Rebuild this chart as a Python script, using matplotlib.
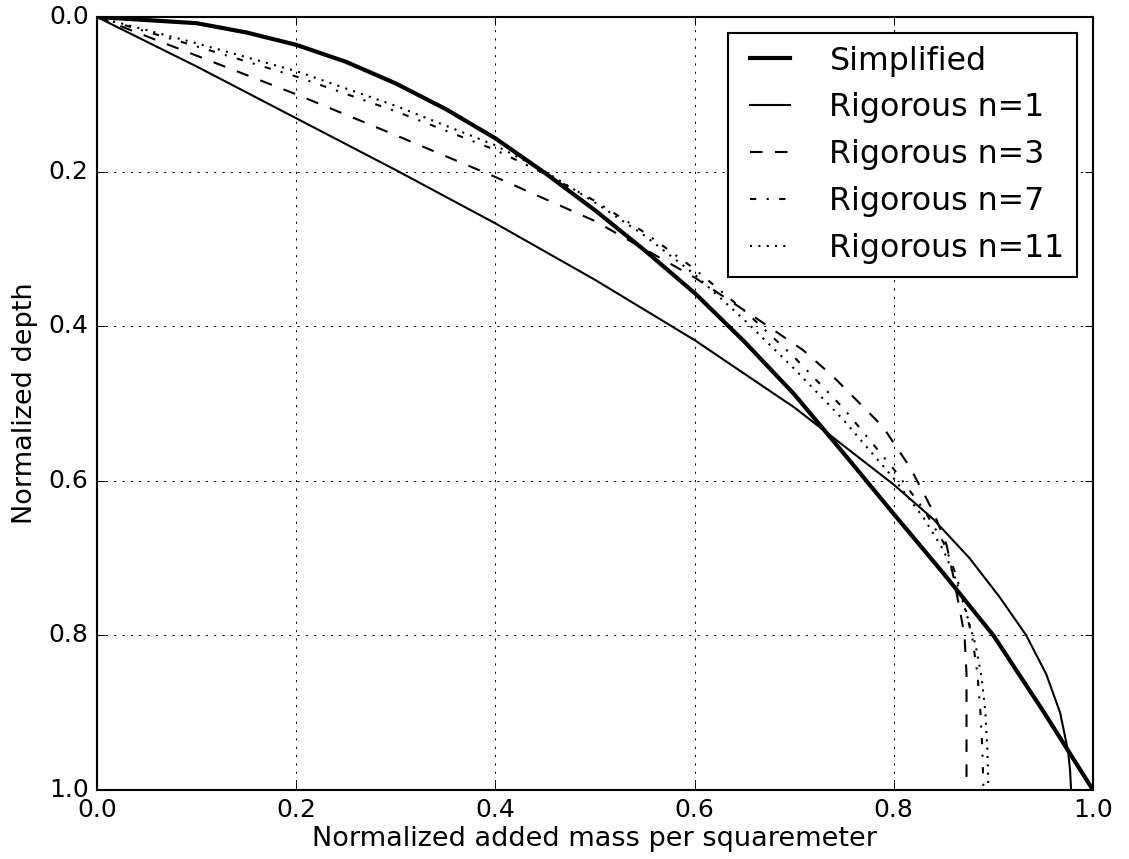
import matplotlib
matplotlib.use("Agg")
import matplotlib.pyplot as plt

plt.style.use('classic')
plt.rcParams['font.family'] = ['DejaVu Sans']

# Simplified model
simp_mass  = [0.0, 0.1, 0.15, 0.2, 0.25, 0.3, 0.35, 0.4, 0.45, 0.5, 0.55, 0.6, 0.65, 0.7,
              0.75, 0.8, 0.85, 0.9, 0.95, 1.0]
simp_depth = [0.0, 0.008, 0.020, 0.036, 0.058, 0.086, 0.119, 0.157, 0.202, 0.250, 0.302, 0.357,
              0.420, 0.488, 0.565, 0.643, 0.720, 0.800, 0.898, 1.0]

# Rigorous n=1
n1_mass  = [0.0, 0.1, 0.2, 0.3, 0.4, 0.5, 0.6, 0.7, 0.733, 0.8, 0.840, 0.876, 0.906, 0.933,
            0.953, 0.967, 0.975, 0.977, 0.978]
n1_depth = [0.0, 0.064, 0.131, 0.198, 0.267, 0.340, 0.418, 0.505, 0.538, 0.605, 0.650, 0.700,
            0.750, 0.800, 0.850, 0.900, 0.950, 0.975, 1.0]

# Rigorous n=3
n3_mass  = [0.0, 0.1, 0.2, 0.3, 0.4, 0.5, 0.6, 0.66, 0.709, 0.739, 0.789, 0.816, 0.83, 0.841,
            0.853, 0.860, 0.866, 0.871, 0.873, 0.873]
n3_depth = [0.0, 0.050, 0.100, 0.153, 0.207, 0.264, 0.337, 0.388, 0.431, 0.465, 0.530, 0.582,
            0.616, 0.644, 0.683, 0.725, 0.765, 0.800, 0.850, 1.0]

# Rigorous n=7
n7_mass  = [0.0, 0.1, 0.2, 0.3, 0.4, 0.45, 0.5, 0.55, 0.6, 0.65, 0.7, 0.75, 0.8, 0.83, 0.85,
            0.862, 0.872, 0.879, 0.884, 0.887, 0.889, 0.890]
n7_depth = [0.0, 0.038, 0.077, 0.122, 0.172, 0.203, 0.238, 0.279, 0.326, 0.380, 0.440, 0.507,
            0.585, 0.637, 0.680, 0.720, 0.765, 0.805, 0.850, 0.900, 0.950, 1.0]

# Rigorous n=11
n11_mass  = [0.0, 0.1, 0.2, 0.3, 0.4, 0.45, 0.5, 0.55, 0.6, 0.65, 0.7, 0.75, 0.8, 0.83, 0.85,
             0.863, 0.873, 0.882, 0.888, 0.892, 0.894, 0.895]
n11_depth = [0.0, 0.034, 0.070, 0.115, 0.166, 0.200, 0.240, 0.283, 0.333, 0.392, 0.455, 0.522,
             0.597, 0.648, 0.690, 0.730, 0.772, 0.812, 0.853, 0.900, 0.950, 1.0]

labels = ["Simplified", "Rigorous n=1", "Rigorous n=3", "Rigorous n=7", "Rigorous n=11"]
ticks = [0.0, 0.2, 0.4, 0.6, 0.8, 1.0]

fig = plt.figure(figsize=(1129/150, 859/150), dpi=150, facecolor='white')
ax = fig.add_axes([97/1129, 69/859, 996/1129, 773/859])
ax.set_facecolor('white')

ax.plot(simp_mass, simp_depth, 'k-', lw=2.0, label=labels[0])
ax.plot(n1_mass, n1_depth, 'k-', lw=1.0, label=labels[1])
ax.plot(n3_mass, n3_depth, 'k--', lw=1.0, label=labels[2])
ax.plot(n7_mass, n7_depth, 'k-.', lw=1.0, label=labels[3])
ax.plot(n11_mass, n11_depth, 'k:', lw=1.0, label=labels[4])

ax.set_xlim(0, 1)
ax.set_ylim(1, 0)
ax.set_xticks(ticks)
ax.set_yticks(ticks)
ax.tick_params(labelsize=12)
ax.grid(True)
ax.set_xlabel("Normalized added mass per squaremeter", fontsize=13, labelpad=2)
ax.set_ylabel("Normalized depth", fontsize=13)

ax.legend(loc='upper right', fontsize=15.2, handlelength=1.85, handletextpad=0.95,
          labelspacing=0.5)

fig.savefig("out.png", dpi=150, facecolor='white')
